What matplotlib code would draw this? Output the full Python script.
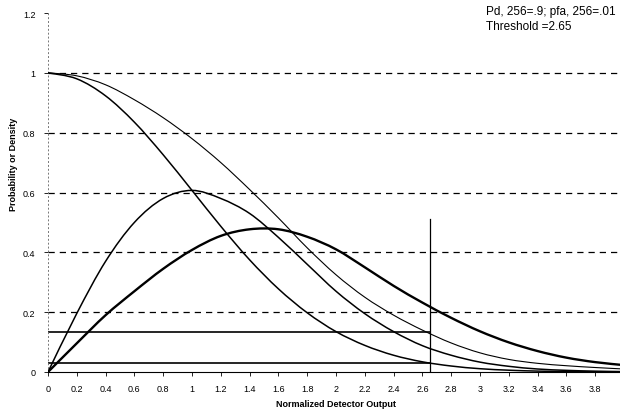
import numpy as np
import matplotlib
matplotlib.use("Agg")
import matplotlib.pyplot as plt
from matplotlib.path import Path
from matplotlib.patches import PathPatch

plt.rcParams["font.family"] = ["Liberation Sans", "DejaVu Sans"]

# detector output grid (0.2 steps, as on the category axis)
x = [0.0, 0.2, 0.4, 0.6, 0.8, 1.0, 1.2, 1.4, 1.6, 1.8, 2.0,
     2.2, 2.4, 2.6, 2.8, 3.0, 3.2, 3.4, 3.6, 3.8, 4.0]

# noise pdf (peak at 1)
noise_pdf = [0.0, 0.196, 0.37, 0.50, 0.58, 0.607, 0.58, 0.53, 0.45, 0.36, 0.27,
             0.195, 0.135, 0.088, 0.056, 0.033, 0.019, 0.010, 0.0055, 0.0028, 0.0013]
# signal+noise pdf
signal_pdf = [0.0, 0.096, 0.19, 0.27, 0.345, 0.408, 0.455, 0.477, 0.477, 0.452, 0.41,
              0.35, 0.288, 0.232, 0.181, 0.136, 0.099, 0.07, 0.048, 0.033, 0.023]
# probability of exceeding (noise)
noise_cdf = [1.0, 0.98, 0.923, 0.835, 0.726, 0.607, 0.487, 0.375, 0.278, 0.198, 0.135,
             0.089, 0.056, 0.034, 0.020, 0.011, 0.006, 0.003, 0.0015, 0.0007, 0.0003]
# probability of exceeding (signal+noise)
signal_cdf = [1.0, 0.99, 0.96, 0.91, 0.85, 0.78, 0.70, 0.61, 0.515, 0.415, 0.325,
              0.25, 0.19, 0.14, 0.097, 0.064, 0.042, 0.029, 0.021, 0.015, 0.01]

threshold = 2.65
level_hi = 0.135
level_lo = 0.03
thr_top = 0.51


def smooth_line(ax, xs, ys, **kw):
    # excel style "smoothed line": bezier segments through the points
    xs = np.asarray(xs, float)
    ys = np.asarray(ys, float)
    verts = [(xs[0], ys[0])]
    codes = [Path.MOVETO]
    n = len(xs)
    for i in range(n - 1):
        i0, i3 = max(i - 1, 0), min(i + 2, n - 1)
        c1 = (xs[i] + (xs[i + 1] - xs[i0]) / 6, ys[i] + (ys[i + 1] - ys[i0]) / 6)
        c2 = (xs[i + 1] - (xs[i3] - xs[i]) / 6, ys[i + 1] - (ys[i3] - ys[i]) / 6)
        verts += [c1, c2, (xs[i + 1], ys[i + 1])]
        codes += [Path.CURVE4] * 3
    ax.add_patch(PathPatch(Path(verts, codes), fill=False, capstyle="round", **kw))


fig = plt.figure(figsize=(6.2, 4.14), dpi=100)
ax = fig.add_axes([48 / 620, 1 - 373 / 414, 576 / 620, 359 / 414])

# grid
for g in [0.2, 0.4, 0.6, 0.8, 1.0]:
    ax.axhline(g, color="black", lw=0.9, ls=(0, (5, 4)), zorder=1)

smooth_line(ax, x, signal_cdf, color="black", lw=0.8, zorder=3)
smooth_line(ax, x, noise_cdf, color="black", lw=1.1, zorder=3)
smooth_line(ax, x, noise_pdf, color="black", lw=1.1, zorder=3)
smooth_line(ax, x, signal_pdf, color="black", lw=1.7, zorder=3)

ax.plot([0, threshold], [level_hi, level_hi], color="black", lw=1.2, zorder=2)
ax.plot([0, threshold], [level_lo, level_lo], color="black", lw=1.2, zorder=2)
ax.plot([threshold, threshold], [0, thr_top], color="black", lw=0.9, zorder=2)

ax.set_xlim(0, 4.0)
ax.set_ylim(0, 1.2)
ax.set_xticks(x[:-1])
ax.set_xticklabels([f"{v:g}" for v in x[:-1]])
ax.set_yticks([0, 0.2, 0.4, 0.6, 0.8, 1.0, 1.2])
ax.set_yticklabels(["0", "0.2", "0.4", "0.6", "0.8", "1", "1.2"])
ax.tick_params(labelsize=6.5, length=3, width=0.6, pad=6)

for s in ["top", "right"]:
    ax.spines[s].set_visible(False)
ax.spines["left"].set_linestyle((0, (1, 3)))
ax.spines["left"].set_color("#777777")
ax.spines["left"].set_linewidth(0.7)
ax.spines["bottom"].set_linewidth(0.8)

ax.set_xlabel("Normalized Detector Output", fontsize=6.5, fontweight="bold", labelpad=4)
ax.set_ylabel("Probability or Density", fontsize=6.5, fontweight="bold")
ax.yaxis.set_label_coords(-0.052, 0.58)

fig.text(486 / 620, 1 - 12 / 414, "Pd, 256=.9; pfa, 256=.01", fontsize=8.5, va="center")
fig.text(486 / 620, 1 - 27 / 414, "Threshold =2.65", fontsize=8.5, va="center")

fig.savefig("out.png", dpi=100)
